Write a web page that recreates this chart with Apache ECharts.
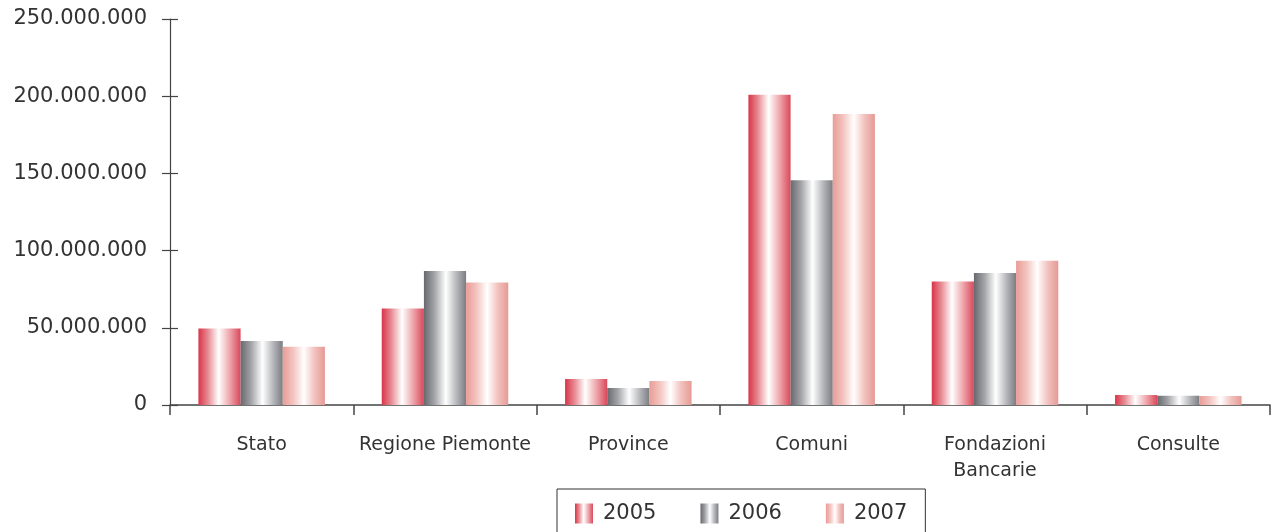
<!DOCTYPE html>
<html>
<head>
<meta charset="utf-8">
<script src="https://cdn.jsdelivr.net/npm/echarts@6/dist/echarts.min.js"></script>
<style>html,body{margin:0;padding:0;background:#fff;}#c{width:1271px;height:532px;}</style>
</head>
<body>
<div id="c"></div>
<script>
const categories = ['Stato', 'Regione Piemonte', 'Province', 'Comuni', 'Fondazioni\nBancarie', 'Consulte'];
const seriesNames = ['2005', '2006', '2007'];
const values2005 = [49500000, 62500000, 16800000, 201000000, 80000000, 6500000];
const values2006 = [41500000, 86800000, 11000000, 145500000, 85500000, 6000000];
const values2007 = [37800000, 79300000, 15500000, 188500000, 93500000, 5800000];
const yTicks = { min: 0, max: 250000000, interval: 50000000 };

function grad(stops) {
  return new echarts.graphic.LinearGradient(0, 0, 1, 0, stops.map(s => ({ offset: s[0], color: s[1] })));
}
const gradients = [
  grad([[0, '#d83449'], [0.22, '#e78890'], [0.48, '#ffffff'], [0.75, '#eda3a9'], [1, '#d9485a']]),
  grad([[0, '#68696e'], [0.25, '#a3a4a8'], [0.52, '#ffffff'], [0.78, '#b4b5b9'], [1, '#7c7d83']]),
  grad([[0, '#e99c97'], [0.25, '#f3c4c0'], [0.5, '#ffffff'], [0.75, '#f2c2be'], [1, '#e69a95']])
];
const fmt = v => String(v).replace(/\B(?=(\d{3})+(?!\d))/g, '.');
const font = 'DejaVu Sans';

const chart = echarts.init(document.getElementById('c'));
const dataSets = [values2005, values2006, values2007];
chart.setOption({
  animation: false,
  textStyle: { fontFamily: font },
  grid: { left: 170, right: 1, top: 19, bottom: 127, containLabel: false },
  legend: {
    data: seriesNames,
    left: 557, top: 489,
    orient: 'horizontal',
    borderColor: '#333', borderWidth: 1,
    padding: [14, 18, 14, 18],
    itemWidth: 18, itemHeight: 20, itemGap: 44,
    icon: 'rect',
    textStyle: { fontSize: 21, color: '#333', fontFamily: font, padding: [0, 0, 0, 5] }
  },
  xAxis: {
    type: 'category',
    data: categories,
    axisLine: { lineStyle: { color: '#444', width: 1.5 } },
    axisTick: { show: true, length: 10, lineStyle: { color: '#444', width: 1.5 } },
    axisLabel: { fontSize: 19, color: '#333', margin: 27, lineHeight: 26, fontFamily: font, interval: 0 }
  },
  yAxis: [{
    type: 'value',
    min: yTicks.min, max: yTicks.max, interval: yTicks.interval,
    axisLine: { show: true, lineStyle: { color: '#444', width: 1.2 } },
    axisTick: { show: true, length: 8, lineStyle: { color: '#444', width: 1.2 } },
    splitLine: { show: false },
    axisLabel: { fontSize: 21, color: '#333', margin: 23, formatter: fmt, fontFamily: font }
  }, {
    type: 'value', position: 'left',
    min: yTicks.min, max: yTicks.max, interval: yTicks.interval,
    axisLine: { show: false },
    axisTick: { show: true, inside: true, length: 8, lineStyle: { color: '#444', width: 1.2 } },
    splitLine: { show: false },
    axisLabel: { show: false }
  }],
  series: seriesNames.map((n, i) => ({
    name: n, type: 'bar', data: dataSets[i],
    barGap: '0%', barCategoryGap: '31%',
    itemStyle: { color: gradients[i] }
  }))
});
</script>
</body>
</html>
